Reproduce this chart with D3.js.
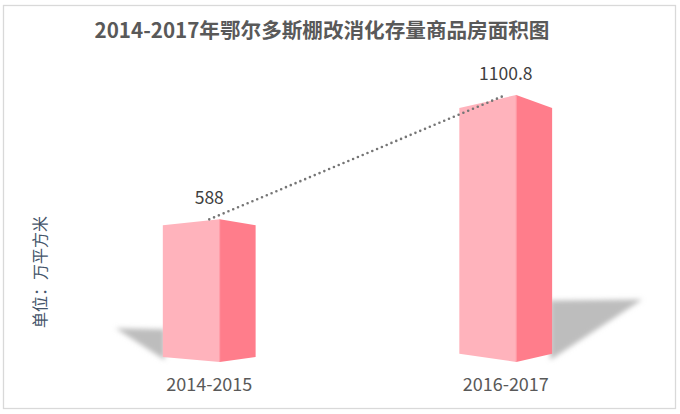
<!DOCTYPE html>
<html>
<head>
<meta charset="utf-8">
<script src="https://cdn.jsdelivr.net/npm/d3@7"></script>
<style>
html,body{margin:0;padding:0;background:#fff;}
svg{display:block;}
text{font-family:"Noto Sans CJK SC","Noto Sans",sans-serif;}
</style>
</head>
<body>
<svg id="chart" width="680" height="414"></svg>
<script>
const title = "2014-2017年鄂尔多斯棚改消化存量商品房面积图";
const categories = ["2014-2015", "2016-2017"];
const values = [588, 1100.8];
const valueLabels = ["588", "1100.8"];
const yAxisTitle = "单位：万平方米";
const yDomain = [0, 1200];

const W = 680, H = 414;
const svg = d3.select("#chart");
const defs = svg.append("defs");
defs.append("filter").attr("id","blur").attr("x","-50%").attr("y","-50%").attr("width","200%").attr("height","200%")
  .append("feGaussianBlur").attr("stdDeviation", 2.6);

svg.append("rect").attr("x",3.5).attr("y",5.5).attr("width",672).attr("height",403)
  .attr("fill","#fff").attr("stroke","#d9d9d9").attr("stroke-width",1.3);

const x = d3.scaleBand().domain(categories).range([61, 654]).padding(0);
const y = d3.scaleLinear().domain(yDomain).range([362, 362 - 291.1]);
const bw = x.bandwidth();
const base = y(0);
const midX = (x.range()[0] + x.range()[1]) / 2;

const data = categories.map((c, i) => ({c, v: values[i], label: valueLabels[i]}));

// shadows
svg.append("g").selectAll("path").data(data).join("path")
  .attr("filter","url(#blur)")
  .attr("fill","#bdbdbd")
  .attr("d", d => {
    const cx = x(d.c) + bw/2;
    const front = cx + bw*0.0354;
    const h = base - y(d.v);
    const sh = h*0.23, sl = h*0.345;
    const dir = cx < midX ? -1 : 1;
    const edge = dir < 0 ? front - bw*0.192 + 2 : front + bw*0.121 - 2;
    return `M${edge},${base - sh} L${edge + dir*sl},${base - sh - 1} L${edge},${base - 2} Z`;
  });

// bars (3D prisms)
const bars = svg.append("g").selectAll("g").data(data).join("g");
function geom(d){
  const cx = x(d.c) + bw/2;
  const front = cx + bw*0.0354;
  const left = front - bw*0.192;
  const right = front + bw*0.121;
  const top = y(d.v);
  const h = base - top;
  const dipTop = 0.0587*h - 2.6;
  const riseBot = 5 + (cx - 209)*0.0111;
  return {cx, front, left, right, top, dipTop, riseBot};
}
bars.append("path").attr("fill","#ffb3bc").attr("d", d => {
  const g = geom(d);
  return `M${g.left},${g.top+g.dipTop} L${g.front},${g.top} L${g.front},${base} L${g.left},${base-g.riseBot} Z`;
});
bars.append("path").attr("fill","#ff7d8b").attr("d", d => {
  const g = geom(d);
  return `M${g.front},${g.top} L${g.right},${g.top+g.dipTop} L${g.right},${base-g.riseBot} L${g.front},${base} Z`;
});
bars.append("line").attr("stroke","#ff98a4").attr("stroke-width",1)
  .attr("x1", d => geom(d).front).attr("x2", d => geom(d).front)
  .attr("y1", d => geom(d).top).attr("y2", base);

// dotted trend line
const line = d3.line().x(d => x(d.c) + bw/2).y(d => y(d.v));
svg.append("path").datum(data).attr("d", line)
  .attr("fill","none").attr("stroke","#767676").attr("stroke-width",2.6)
  .attr("stroke-linecap","round").attr("stroke-dasharray","0,5.2");

// value labels
svg.append("g").selectAll("text").data(data).join("text")
  .attr("x", d => x(d.c) + bw/2).attr("y", d => y(d.v) - 15)
  .attr("text-anchor","middle").attr("font-size",17.5).attr("fill","#404040")
  .text(d => d.label);

// category axis labels
const xAxis = d3.axisBottom(x).tickSize(0).tickPadding(0);
const gx = svg.append("g").attr("transform",`translate(0,${375.5})`).call(xAxis);
gx.select(".domain").remove();
gx.selectAll("text").attr("font-size",18).attr("fill","#595959")
  .attr("font-family",'"Noto Sans CJK SC","Noto Sans",sans-serif').attr("dy","0.85em");

// y axis title
svg.append("text").attr("transform","translate(46,272) rotate(-90)")
  .attr("text-anchor","middle").attr("font-size",16).attr("fill","#44546a")
  .text(yAxisTitle);

// title
svg.append("text").attr("x",322).attr("y",38).attr("text-anchor","middle")
  .attr("font-size",20.6).attr("font-weight","bold").attr("fill","#595959")
  .text(title);
</script>
</body>
</html>
